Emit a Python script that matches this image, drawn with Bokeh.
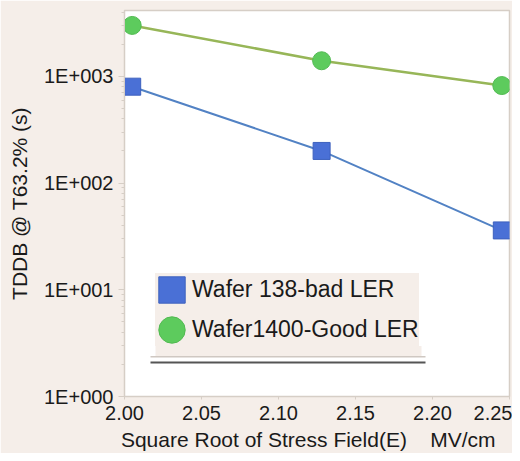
from bokeh.embed import file_html
from bokeh.models import (BoxAnnotation, ColumnDataSource, CustomJSTickFormatter,
                          FixedTicker, Legend, LegendItem, PrintfTickFormatter)
from bokeh.plotting import figure
from bokeh.resources import INLINE

# values
stress_field = [2.005, 2.128, 2.245]
wafer_138_bad = [800, 200, 36]
wafer_1400_good = [3000, 1400, 820]
x_ticks = [2.00, 2.05, 2.10, 2.15, 2.20, 2.25]
y_ticks = [1, 10, 100, 1000]

FONT = "Liberation Sans"
BEIGE = "#F5EEE9"
FRAME = "#D6CEC6"
NBSP = "\u00a0"

source = ColumnDataSource(data=dict(
    field=stress_field, bad=wafer_138_bad, good=wafer_1400_good))

p = figure(
    width=512, height=453,
    x_range=(2.0, 2.25), y_range=(1, 4140), y_axis_type="log",
    output_backend="svg", toolbar_location=None,
    min_border_left=124, min_border_right=3,
    min_border_top=10, min_border_bottom=56,
    background_fill_color="white", border_fill_color=BEIGE,
)
p.outline_line_color = FRAME
p.outline_line_width = 1.5
p.xgrid.visible = False
p.ygrid.visible = False

# lines first, markers on top
p.line("field", "good", source=source, line_color="#97B658", line_width=2.5)
p.line("field", "bad", source=source, line_color="#5282C4", line_width=2)
good = p.ellipse("field", "good", source=source, width=18, height=18,
                 width_units="screen", height_units="screen",
                 fill_color="#5DCB5D", line_color="#52BA52", line_width=1)
bad = p.rect("field", "bad", source=source, width=17, height=17,
             width_units="screen", height_units="screen",
             fill_color="#4A70D6", line_color="#3D61BE", line_width=1)

# axes
for ax in (p.xaxis[0], p.yaxis[0]):
    ax.axis_line_color = FRAME
    ax.major_tick_line_color = FRAME
    ax.minor_tick_line_color = FRAME
    ax.major_label_text_font = FONT
    ax.major_label_text_color = "#1A1A1A"
    ax.major_label_text_font_size = "20px"
    ax.major_tick_in = 0
    ax.minor_tick_in = 0
    ax.axis_label_text_font = FONT
    ax.axis_label_text_font_style = "normal"
    ax.axis_label_text_font_size = "21px"
    ax.axis_label_text_color = "#1A1A1A"

p.xaxis.ticker = FixedTicker(ticks=x_ticks)
p.xaxis.formatter = PrintfTickFormatter(format="%.2f")
p.xaxis.major_tick_out = 3
p.xaxis.major_label_standoff = 6
# trailing spaces nudge the centred title left, like the reference
p.xaxis.axis_label = ("Square Root of Stress Field(E)" + NBSP * 4 + "MV/cm"
                      + NBSP * 3)
p.xaxis.axis_label_standoff = 5

p.yaxis.ticker.desired_num_ticks = 4
p.yaxis.formatter = CustomJSTickFormatter(code="""
    const e = Math.round(Math.log10(tick));
    return "1E+" + String(e).padStart(3, "0");
""")
p.yaxis.major_tick_out = 6
p.yaxis.minor_tick_out = 3
p.yaxis.major_label_standoff = 5
p.yaxis.axis_label = "TDDB @ T63.2% (s)"
p.yaxis.axis_label_standoff = 10

legend = Legend(
    items=[LegendItem(label="Wafer 138-bad LER", renderers=[bad]),
           LegendItem(label="Wafer1400-Good LER", renderers=[good])],
    location=(31, 50),
    glyph_width=33, glyph_height=33, label_height=33,
    spacing=7, padding=0, margin=0, label_standoff=4,
    label_text_font=FONT, label_text_font_size="23px",
    label_text_color="#1A1A1A", label_text_baseline="middle",
    background_fill_color=BEIGE, background_fill_alpha=1,
    border_line_color=None,
)
p.add_layout(legend)

# beige strip under the legend box, then the rule below it
p.add_layout(BoxAnnotation(left=31, right=297, bottom=40.5, top=50.5,
                           left_units="screen", right_units="screen",
                           bottom_units="screen", top_units="screen",
                           fill_color=BEIGE, fill_alpha=1, line_color=None,
                           level="underlay"))
p.add_layout(BoxAnnotation(left=26, right=301, bottom=39, top=40.5,
                           left_units="screen", right_units="screen",
                           bottom_units="screen", top_units="screen",
                           fill_color="#CFC8C2", fill_alpha=1, line_color=None))
p.add_layout(BoxAnnotation(left=26, right=301, bottom=33, top=35,
                           left_units="screen", right_units="screen",
                           bottom_units="screen", top_units="screen",
                           fill_color="#555555", fill_alpha=1, line_color=None))

open("out.html", "w").write(file_html(p, INLINE))
